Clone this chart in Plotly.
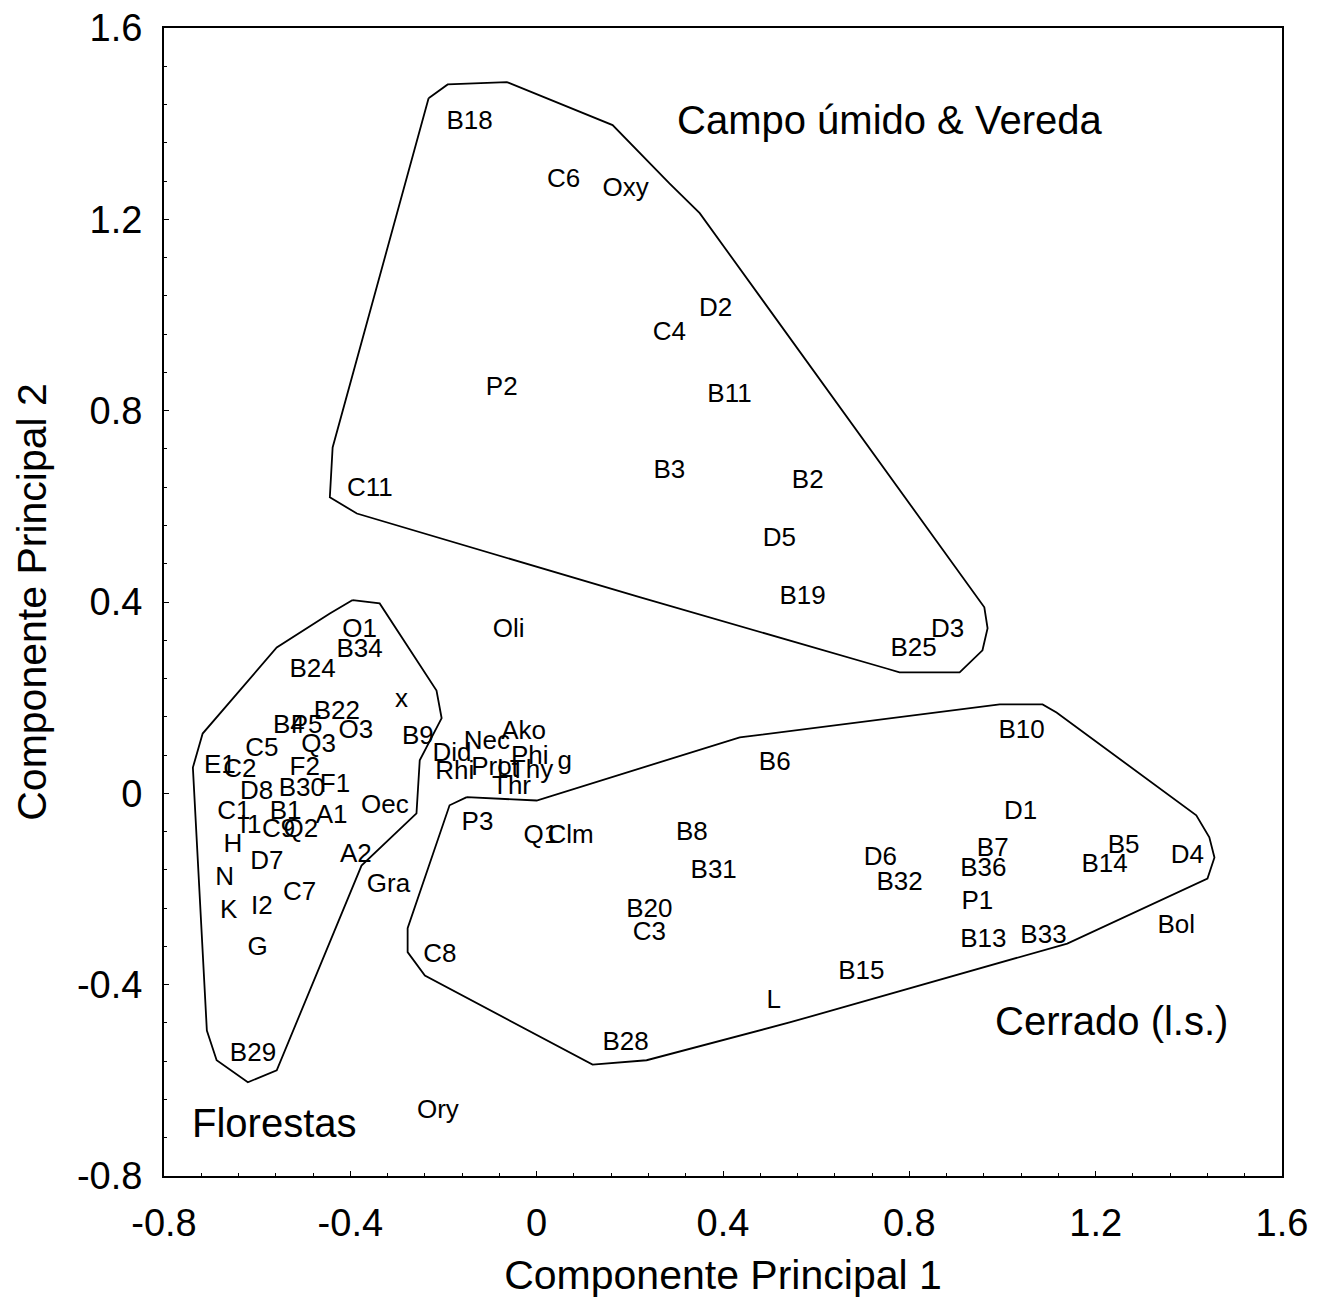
import plotly.graph_objects as go

# Scores on the first two principal components
campo_labels = ['B18', 'C6', 'Oxy', 'D2', 'C4', 'P2', 'B11', 'B3', 'B2', 'C11',
                'D5', 'B19', 'D3', 'B25', 'Oli']
campo_pc1 = [-0.144, 0.058, 0.191, 0.384, 0.285, -0.075, 0.414, 0.285, 0.582, -0.358,
             0.521, 0.571, 0.882, 0.809, -0.060]
campo_pc2 = [1.403, 1.282, 1.262, 1.012, 0.962, 0.847, 0.832, 0.673, 0.652, 0.636,
             0.531, 0.410, 0.341, 0.301, 0.341]

flor_labels = ['O1', 'B34', 'B24', 'x', 'B22', 'B4', 'P5', 'O3', 'B9', 'Q3', 'C5',
               'E1', 'C2', 'F2', 'D8', 'B30', 'F1', 'C1', 'B1', 'I1', 'C9', 'Q2',
               'A1', 'Oec', 'H', 'D7', 'A2', 'N', 'Gra', 'C7', 'K', 'I2', 'G', 'B29']
flor_pc1 = [-0.380, -0.380, -0.481, -0.290, -0.429, -0.532, -0.494, -0.388, -0.255,
            -0.468, -0.590, -0.680, -0.637, -0.498, -0.601, -0.504, -0.433, -0.650,
            -0.539, -0.614, -0.554, -0.506, -0.440, -0.326, -0.652, -0.579, -0.388,
            -0.670, -0.318, -0.509, -0.661, -0.590, -0.599, -0.609]
flor_pc2 = [0.341, 0.299, 0.257, 0.195, 0.169, 0.140, 0.140, 0.130, 0.117, 0.100,
            0.092, 0.056, 0.048, 0.052, 0.002, 0.008, 0.017, -0.040, -0.040, -0.069,
            -0.077, -0.077, -0.048, -0.027, -0.109, -0.144, -0.130, -0.178, -0.192,
            -0.209, -0.247, -0.238, -0.324, -0.546]

mid_labels = ['Ako', 'Nec', 'Did', 'Phi', 'g', 'Rhi', 'Pro', 'Lt', 'Thy', 'Thr',
              'P3', 'Q1', 'Clm', 'Ory']
mid_pc1 = [-0.028, -0.107, -0.182, -0.015, 0.060, -0.176, -0.097, -0.062, -0.011,
           -0.054, -0.127, 0.009, 0.073, -0.212]
mid_pc2 = [0.128, 0.107, 0.082, 0.075, 0.065, 0.044, 0.052, 0.048, 0.046, 0.013,
           -0.063, -0.090, -0.090, -0.665]

cerr_labels = ['B10', 'B6', 'D1', 'B8', 'B5', 'B7', 'D4', 'D6', 'B14', 'B36', 'B31',
               'B32', 'P1', 'B20', 'C3', 'Bol', 'B13', 'B33', 'C8', 'B15', 'L', 'B28']
cerr_pc1 = [1.041, 0.511, 1.039, 0.333, 1.260, 0.979, 1.397, 0.738, 1.219, 0.959,
            0.380, 0.779, 0.946, 0.242, 0.242, 1.373, 0.959, 1.088, -0.208, 0.697,
            0.509, 0.191]
cerr_pc2 = [0.130, 0.063, -0.040, -0.084, -0.111, -0.117, -0.132, -0.136, -0.151,
            -0.159, -0.163, -0.188, -0.228, -0.245, -0.293, -0.278, -0.307, -0.299,
            -0.339, -0.374, -0.435, -0.523]

# Hand-drawn group outlines
campo_hull_x = [-0.232, -0.191, -0.064, 0.163, 0.285, 0.350, 0.961, 0.968, 0.957,
                0.908, 0.779, 0.751, 0.221, -0.279, -0.386, -0.444, -0.438, -0.232]
campo_hull_y = [1.453, 1.482, 1.487, 1.397, 1.275, 1.213, 0.389, 0.345, 0.299,
                0.253, 0.253, 0.261, 0.410, 0.554, 0.585, 0.619, 0.723, 1.453]

flor_hull_x = [-0.395, -0.337, -0.215, -0.204, -0.251, -0.258, -0.376, -0.558, -0.620,
               -0.687, -0.708, -0.738, -0.717, -0.558, -0.444, -0.395]
flor_hull_y = [0.404, 0.397, 0.215, 0.157, 0.069, -0.042, -0.151, -0.579, -0.604,
               -0.558, -0.496, 0.054, 0.125, 0.305, 0.376, 0.404]

cerr_hull_x = [-0.150, 0.000, 0.436, 0.994, 1.086, 1.116, 1.416, 1.444, 1.455, 1.440,
               1.139, 0.543, 0.236, 0.120, -0.240, -0.277, -0.277, -0.187, -0.150]
cerr_hull_y = [-0.008, -0.015, 0.117, 0.186, 0.186, 0.169, -0.046, -0.092, -0.134,
               -0.178, -0.314, -0.479, -0.558, -0.567, -0.381, -0.332, -0.282, -0.025,
               -0.008]

group_names = ['Campo úmido & Vereda', 'Florestas', 'Cerrado (l.s.)']
group_x = [0.758, -0.562, 1.234]
group_y = [1.407, -0.690, -0.475]

tick_vals = [-0.8, -0.4, 0, 0.4, 0.8, 1.2, 1.6]
tick_text = ['-0.8', '-0.4', '0', '0.4', '0.8', '1.2', '1.6']

FONT = 'Arial, Liberation Sans, sans-serif'

fig = go.Figure()

for hx, hy in [(campo_hull_x, campo_hull_y), (flor_hull_x, flor_hull_y),
               (cerr_hull_x, cerr_hull_y)]:
    fig.add_trace(go.Scatter(x=hx, y=hy, mode='lines',
                             line=dict(color='black', width=1.8),
                             hoverinfo='skip', showlegend=False))

for lab, px, py in [(campo_labels, campo_pc1, campo_pc2),
                    (flor_labels, flor_pc1, flor_pc2),
                    (mid_labels, mid_pc1, mid_pc2),
                    (cerr_labels, cerr_pc1, cerr_pc2)]:
    fig.add_trace(go.Scatter(x=px, y=py, mode='text', text=lab,
                             textposition='middle center',
                             textfont=dict(family=FONT, size=26, color='black'),
                             showlegend=False))

for name, gx, gy in zip(group_names, group_x, group_y):
    fig.add_annotation(x=gx, y=gy, text=name, showarrow=False,
                       font=dict(family=FONT, size=40, color='black'))

axis_common = dict(
    showline=True, mirror=True, linecolor='black', linewidth=2,
    showgrid=False, zeroline=False, automargin=False,
    tickmode='array', tickvals=tick_vals, ticktext=tick_text,
    ticks='inside', ticklen=5, tickcolor='black', tickwidth=1,
    minor=dict(ticks='inside', ticklen=3, tickcolor='black',
               tickmode='linear', tick0=-0.8, dtick=0.08),
    tickfont=dict(family=FONT, size=38, color='black'),
    ticklabelstandoff=12, ticklabeloverflow='allow',
    range=[-0.8, 1.6],
)

fig.update_xaxes(title=dict(text='Componente Principal 1', standoff=18,
                            font=dict(family=FONT, size=41, color='black')),
                 **axis_common)
fig.update_yaxes(title=dict(text='Componente Principal 2', standoff=18,
                            font=dict(family=FONT, size=41, color='black')),
                 **axis_common)

# page body adds an 8px offset, so margins are shifted to compensate
fig.update_layout(
    width=1319, height=1302,
    margin=dict(l=156, r=45, t=20, b=134),
    plot_bgcolor='white', paper_bgcolor='white',
    font=dict(family=FONT, color='black'),
)

fig.write_html("out.html")
